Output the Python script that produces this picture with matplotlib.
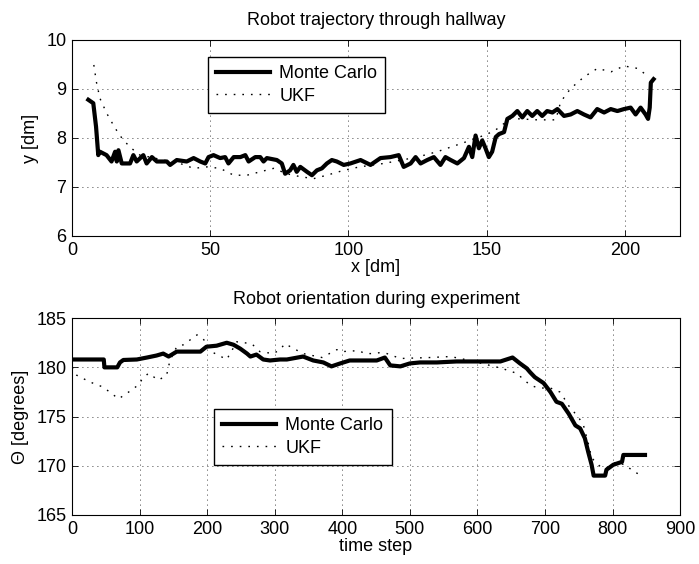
import matplotlib
matplotlib.use("Agg")
from matplotlib import pyplot as plt

plt.rcParams['font.family'] = ['Liberation Sans', 'DejaVu Sans']

# trajectory through hallway, Monte Carlo estimate
mc_x = [5.9, 7.7, 8.7, 9.5, 10.1, 12.5, 14.3, 15.6, 16.2, 16.8, 18.0, 21.0, 22.2, 23.4, 25.8,
        27.0, 28.9, 30.7, 34.3, 35.5, 37.9, 41.5, 44.0, 46.4, 48.2, 49.4, 51.2, 53.6, 55.4,
        56.6, 58.5, 60.9, 62.7, 63.9, 66.3, 68.1, 69.3, 70.5, 74.1, 75.9, 77.1, 78.9, 80.1,
        81.3, 82.6, 85.0, 86.8, 88.6, 90.4, 92.2, 94.0, 95.8, 98.3, 100.7, 104.4, 108.0,
        111.6, 115.2, 118.2, 120.0, 122.5, 124.3, 126.1, 128.5, 130.9, 133.3, 135.1, 137.0,
        139.4, 141.8, 143.6, 144.8, 146.0, 147.2, 148.4, 149.6, 150.8, 152.0, 153.3, 154.5,
        156.3, 157.5, 159.3, 161.1, 162.9, 164.7, 166.5, 168.3, 170.1, 171.9, 173.8, 175.6,
        178.0, 180.4, 182.8, 185.2, 187.6, 190.0, 192.5, 194.9, 197.3, 199.7, 202.1, 203.9,
        205.7, 207.5, 208.4, 209.0, 209.4, 210.4]
mc_y = [8.78, 8.71, 8.23, 7.65, 7.72, 7.65, 7.52, 7.72, 7.52, 7.75, 7.48, 7.48, 7.65, 7.52, 7.65,
        7.48, 7.61, 7.52, 7.52, 7.45, 7.55, 7.52, 7.59, 7.52, 7.48, 7.61, 7.65, 7.59, 7.61,
        7.48, 7.61, 7.61, 7.65, 7.52, 7.61, 7.61, 7.52, 7.59, 7.55, 7.48, 7.27, 7.34, 7.45,
        7.31, 7.41, 7.31, 7.24, 7.34, 7.38, 7.48, 7.55, 7.52, 7.45, 7.48, 7.55, 7.45,
        7.59, 7.61, 7.65, 7.41, 7.48, 7.61, 7.48, 7.55, 7.61, 7.45, 7.61, 7.55,
        7.48, 7.59, 7.82, 7.61, 8.05, 7.79, 7.95, 7.79, 7.61, 7.72, 8.02, 8.08,
        8.12, 8.39, 8.45, 8.55, 8.42, 8.55, 8.45, 8.55, 8.45, 8.55, 8.52, 8.59,
        8.45, 8.48, 8.55, 8.48, 8.42, 8.59, 8.52, 8.59, 8.55, 8.59, 8.62, 8.48,
        8.62, 8.48, 8.39, 8.62, 9.13, 9.20]

# trajectory, UKF estimate
ukf_x = [7.9, 8.8, 10.1, 12.5, 15.6, 18.5, 21.5, 24.6, 28.2, 33.0, 39.1, 44.0, 48.8, 53.6,
         58.5, 63.3, 68.1, 72.9, 77.7, 82.6, 87.4, 92.2, 98.3, 104.0, 112.8, 124.9, 132.1,
         139.4, 146.6, 152.7, 158.7, 168.3, 175.0, 176.8, 180.4, 185.3, 190.1, 195.0, 199.7,
         204.6, 207.0]
ukf_y = [9.49, 9.15, 8.81, 8.51, 8.20, 7.96, 7.79, 7.65, 7.61, 7.55, 7.48, 7.38, 7.41, 7.38,
         7.24, 7.24, 7.31, 7.38, 7.27, 7.21, 7.17, 7.24, 7.34, 7.41, 7.48, 7.61, 7.72,
         7.86, 8.00, 8.14, 8.40, 8.37, 8.37, 8.74, 9.01, 9.25, 9.42, 9.35, 9.47,
         9.42, 9.32]

# orientation during experiment, Monte Carlo
mc_t = [0, 47, 48, 67, 71, 76, 96, 111, 125, 135, 143, 155, 175, 190, 199, 214, 229, 239,
        249, 259, 264, 273, 283, 293, 308, 318, 342, 357, 372, 384, 397, 411, 431, 451, 463,
        471, 486, 500, 515, 540, 569, 604, 634, 652, 663, 673, 678, 685, 698, 708, 717, 725,
        735, 745, 752, 759, 764, 769, 772, 789, 791, 801, 814, 816, 841, 848]
mc_th = [180.8, 180.8, 180.0, 180.0, 180.5, 180.75, 180.8, 181.0, 181.2, 181.4, 181.1, 181.6,
         181.6, 181.6, 182.1, 182.2, 182.5, 182.3, 181.9, 181.4, 181.1, 181.3, 180.8, 180.7,
         180.8, 180.8, 181.1, 180.7, 180.5, 180.1, 180.4, 180.7, 180.7, 180.7, 181.0, 180.2,
         180.1, 180.4, 180.5, 180.5, 180.6, 180.6, 180.6, 181.0, 180.4, 179.9, 179.5, 179.0,
         178.4, 177.5, 176.5, 176.3, 175.3, 174.1, 173.8, 172.8, 171.4, 170.1, 169.0, 169.0,
         169.6, 170.1, 170.4, 171.1, 171.1, 171.1]

# orientation, UKF
ukf_t = [0, 7, 27, 46, 69, 84, 98, 103, 113, 128, 140, 145, 155, 165, 185, 194, 209, 229,
         244, 266, 278, 298, 308, 315, 342, 370, 392, 399, 424, 434, 446, 456, 466, 486, 530,
         560, 589, 636, 658, 678, 690, 708, 722, 727, 737, 749, 757, 764, 769, 782, 791, 806,
         821, 831, 841]
ukf_th = [180.0, 179.2, 178.5, 178.0, 176.8, 177.5, 178.2, 178.7, 179.4, 178.7, 179.2, 180.7,
          182.1, 182.3, 183.3, 182.9, 181.5, 180.8, 182.6, 182.4, 181.6, 181.4, 181.8, 182.4,
          181.4, 181.0, 181.8, 181.6, 181.7, 181.4, 181.4, 181.5, 181.4, 180.9, 181.0,
          181.1, 180.7, 179.9, 179.4, 178.2, 177.9, 177.9, 177.5, 177.0, 175.9, 175.0, 174.1,
          172.3, 170.8, 169.9, 169.8, 170.4, 170.0, 169.4, 169.1]

labels = ['Monte Carlo', 'UKF']
ukf_style = (0, (1.2, 5))
FS = 13


def style_axes(ax):
    ax.grid(True, color='black', linestyle=(0, (1, 5)), linewidth=0.6)
    ax.tick_params(direction='in', top=True, right=True, length=4, width=0.6, labelsize=FS,
                   pad=4)
    for s in ax.spines.values():
        s.set_linewidth(0.8)


def add_legend(ax, x, y):
    leg = ax.legend(loc='upper left', bbox_to_anchor=(x, y), borderaxespad=0, fontsize=FS,
                    fancybox=False, edgecolor='black', framealpha=1, handlelength=3.0,
                    handletextpad=0.5, borderpad=0.45, labelspacing=0.3)
    leg.get_frame().set_linewidth(1.0)


fig = plt.figure(figsize=(6.99, 5.64), dpi=100)
ax1 = fig.add_axes([0.103, 0.5816, 0.870, 0.3475])
ax2 = fig.add_axes([0.103, 0.0869, 0.870, 0.349])

ax1.plot(mc_x, mc_y, color='black', linewidth=3.0, label=labels[0])
ax1.plot(ukf_x, ukf_y, color='black', linewidth=1.0, linestyle=ukf_style, label=labels[1])
ax1.set_xlim(0, 220)
ax1.set_ylim(6, 10)
ax1.set_xticks([0, 50, 100, 150, 200])
ax1.set_yticks([6, 7, 8, 9, 10])
ax1.set_title('Robot trajectory through hallway', fontsize=FS, pad=10.5)
ax1.set_xlabel('x [dm]', fontsize=FS, labelpad=0)
ax1.set_ylabel('y [dm]', fontsize=FS, labelpad=5)
style_axes(ax1)
add_legend(ax1, 0.2237, 0.913)

ax2.plot(mc_t, mc_th, color='black', linewidth=3.0, label=labels[0])
ax2.plot(ukf_t, ukf_th, color='black', linewidth=1.0, linestyle=ukf_style, label=labels[1])
ax2.set_xlim(0, 900)
ax2.set_ylim(165, 185)
ax2.set_xticks(range(0, 901, 100))
ax2.set_yticks([165, 170, 175, 180, 185])
ax2.set_title('Robot orientation during experiment', fontsize=FS, pad=10.5)
ax2.set_xlabel('time step', fontsize=FS, labelpad=0)
ax2.set_ylabel('\u0398 [degrees]', fontsize=FS, labelpad=5)
style_axes(ax2)
add_legend(ax2, 0.2336, 0.538)

fig.savefig('out.png', dpi=100)
